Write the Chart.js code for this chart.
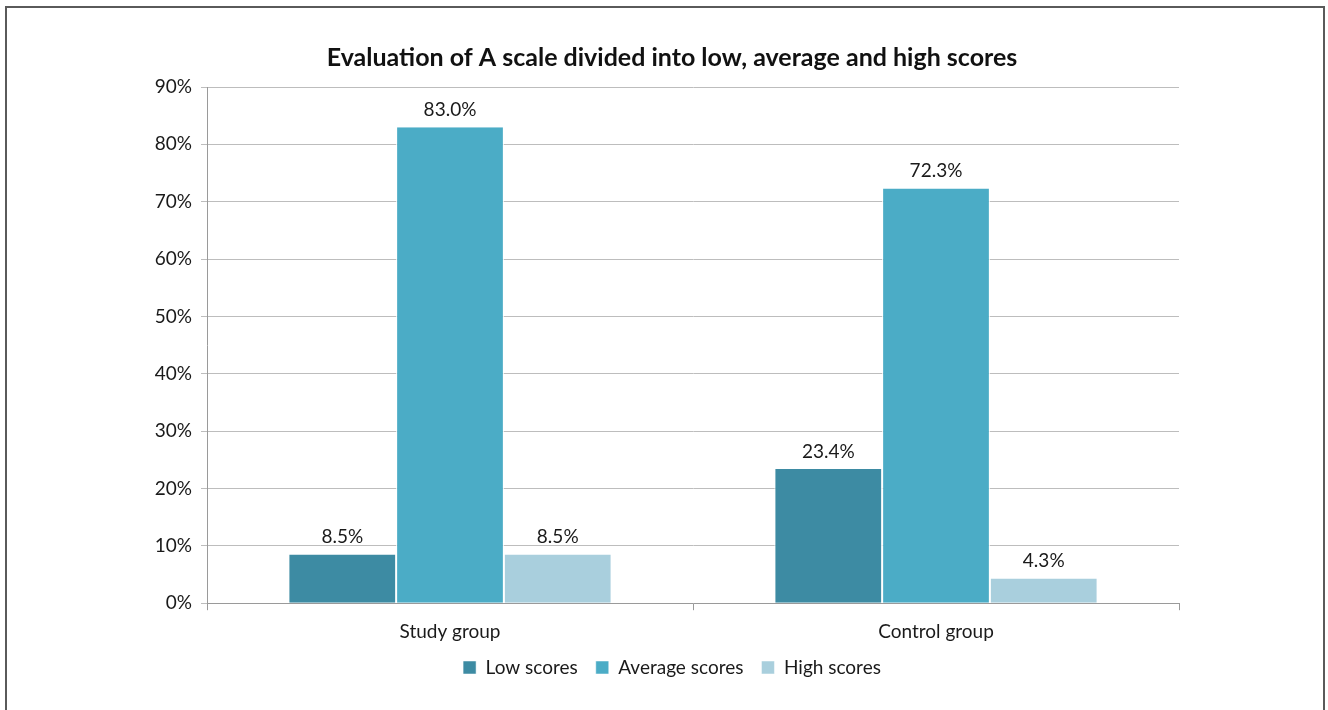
<!doctype html>
<html>
<head>
    <title>Evaluation of A scale</title>
    <script src="https://cdn.jsdelivr.net/npm/chart.js"></script>
    <style>
        body { margin: 0; background: #fff; }
        #moldura { position: absolute; left: 5px; top: 6px; width: 1320px; height: 720px; border: 2px solid #5a5a5a; box-sizing: border-box; }
        #caixa { position: absolute; left: 0; top: 0; width: 1328px; height: 710px; }
    </style>
</head>
<body>
    <div id="moldura"></div>
    <div id="caixa">
        <canvas id="grafico" width="1328" height="710"></canvas>
    </div>

    <script>
        // dados
        var grupos = ['Study group', 'Control group'];
        var baixos = [8.5, 23.4];
        var medios = [83.0, 72.3];
        var altos = [8.5, 4.3];
        var nomesSeries = ['Low scores', 'Average scores', 'High scores'];
        var coresSeries = ['#3d8ba3', '#4bacc6', '#a9cfdd'];

        var fonte = 'Lato, "Open Sans", sans-serif';

        // plugin simples para escrever os valores em cima das barras
        var rotulosBarras = {
            id: 'rotulosBarras',
            afterDatasetsDraw: function (chart) {
                var ctx = chart.ctx;
                ctx.save();
                ctx.fillStyle = '#1a1a1a';
                ctx.font = '19px ' + fonte;
                ctx.textAlign = 'center';
                ctx.textBaseline = 'bottom';
                chart.data.datasets.forEach(function (ds, i) {
                    chart.getDatasetMeta(i).data.forEach(function (barra, j) {
                        ctx.fillText(ds.data[j].toFixed(1) + '%', barra.x, barra.y - 8);
                    });
                });
                ctx.restore();
            }
        };

        // os eixos foram encolhidos no afterFit; tira o recorte dos rotulos
        var semRecorte = {
            id: 'semRecorte',
            beforeDraw: function (chart) {
                Object.keys(chart.scales).forEach(function (k) {
                    chart.scales[k]._computeLabelArea = function () { return undefined; };
                });
            }
        };

        var grafico = new Chart(document.getElementById('grafico').getContext('2d'), {
            type: 'bar',
            data: {
                labels: grupos,
                datasets: [
                    { label: nomesSeries[0], data: baixos, backgroundColor: coresSeries[0] },
                    { label: nomesSeries[1], data: medios, backgroundColor: coresSeries[1] },
                    { label: nomesSeries[2], data: altos, backgroundColor: coresSeries[2] }
                ].map(function (d) {
                    d.borderColor = '#ffffff';
                    d.borderWidth = { left: 1, right: 1, top: 0, bottom: 0 };
                    d.categoryPercentage = 0.665;
                    d.barPercentage = 1.0;
                    return d;
                })
            },
            options: {
                responsive: false,
                animation: false,
                layout: { padding: { left: 165, right: 149, top: 35, bottom: 23 } },
                scales: {
                    x: {
                        grid: { display: true, offset: true, drawOnChartArea: false, tickLength: 7, color: '#9a9a9a' },
                        border: { color: '#9a9a9a' },
                        ticks: { color: '#1a1a1a', font: { family: fonte, size: 19 }, padding: 10 },
                        afterFit: function (s) { s.height -= 13; }
                    },
                    y: {
                        min: 0,
                        max: 90,
                        ticks: {
                            stepSize: 10,
                            color: '#1a1a1a',
                            padding: 9,
                            font: { family: fonte, size: 19 },
                            callback: function (v) { return v + '%'; }
                        },
                        grid: { color: '#bdbdbd', tickLength: 6 },
                        border: { color: '#9a9a9a' },
                        afterFit: function (s) { s.width = 42; }
                    }
                },
                plugins: {
                    title: {
                        display: true,
                        text: 'Evaluation of A scale divided into low, average and high scores',
                        color: '#111',
                        font: { family: fonte, size: 25, weight: 'bold' },
                        padding: { top: 8, bottom: 14 }
                    },
                    legend: {
                        position: 'bottom',
                        labels: {
                            boxWidth: 13,
                            boxHeight: 13,
                            padding: 18,
                            color: '#1a1a1a',
                            font: { family: fonte, size: 19 }
                        }
                    },
                    tooltip: { enabled: false }
                }
            },
            plugins: [rotulosBarras, semRecorte]
        });
    </script>
</body>
</html>
